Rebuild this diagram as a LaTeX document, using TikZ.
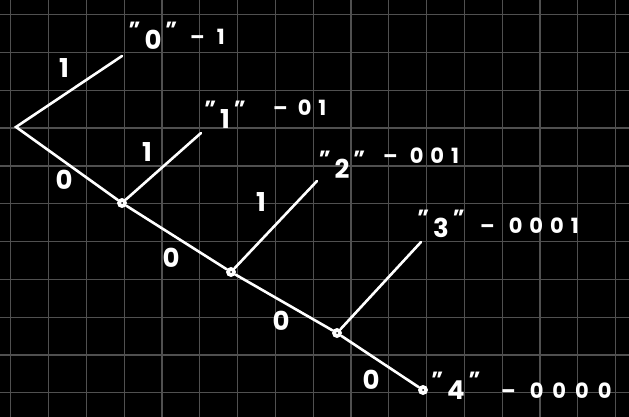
\documentclass[tikz,border=0pt]{standalone}
\usepackage{fontspec}
\setmainfont{Poppins}
\definecolor{gridc}{RGB}{80,80,80}
\newcommand{\qmark}{\raisebox{0.45em}{\fontsize{22}{22}\selectfont"}}
\newcommand{\qd}[1]{\qmark\hspace{0.15em}#1\hspace{0.15em}\qmark}
\newcommand{\gp}{\hspace{7pt}}
\begin{document}
\begin{tikzpicture}[x=1pt,y=-1pt,
  gridline/.style={draw=gridc, line width=1.2pt},
  branch/.style={draw=white, line width=2.6pt, line cap=round},
  lbl/.style={text=white, font=\fontsize{26}{26}\selectfont\bfseries, inner sep=0pt},
  codelbl/.style={text=white, font=\fontsize{21}{21}\selectfont\bfseries, inner sep=0pt, anchor=west},
  dotnode/.style={circle, fill=white, inner sep=0pt, minimum size=10pt,
    path picture={\fill[black] (path picture bounding box.center) circle (1pt);}}]
\fill[black] (0,0) rectangle (629,417);
\useasboundingbox (0,0) rectangle (629,417);
% grid
\foreach \i in {0,...,16} \draw[gridline] ({10.7+37.8*\i},0) -- ({10.7+37.8*\i},417);
\foreach \j in {0,...,10} \draw[gridline] (0,{14.7+37.8*\j}) -- (629,{14.7+37.8*\j});
% tree points
\coordinate (root) at (16,127);
\coordinate (t0) at (122,56);
\node[dotnode] (A) at (122,203) {};
\coordinate (t1) at (201,133);
\node[dotnode] (B) at (231,272) {};
\coordinate (t2) at (317,181);
\node[dotnode] (C) at (337,333) {};
\coordinate (t3) at (421,242);
\node[dotnode] (D) at (423,390) {};
% branches
\draw[branch] (t0) -- (root) -- (A);
\draw[branch] (A) -- (B);
\draw[branch] (B) -- (C);
\draw[branch] (C) -- (D);
\draw[branch] (A) -- (t1);
\draw[branch] (B) -- (t2);
\draw[branch] (C) -- (t3);
% edge labels
\node[lbl] (e1) at (64,68) {1};
\node[lbl] (e2) at (64,180) {0};
\node[lbl] (e3) at (147,152) {1};
\node[lbl] (e4) at (171,258) {0};
\node[lbl] (e5) at (261,202) {1};
\node[lbl] (e6) at (281,321) {0};
\node[lbl] (e7) at (371,380) {0};
% leaf labels
\node[lbl] (q0) at (153,36) {\qd{0}};
\node[codelbl] (c0) at (190,37) {–\hspace{12pt}1};
\node[lbl] (q1) at (225,115) {\qd{1}};
\node[codelbl] (c1) at (273,108) {–\hspace{10pt}0\gp1};
\node[lbl] (q2) at (342,165) {\qd{2}};
\node[codelbl] (c2) at (383,156) {–\hspace{12pt}0\gp0\gp1};
\node[lbl] (q3) at (441,224) {\qd{3}};
\node[codelbl] (c3) at (480,226) {–\hspace{14pt}0\gp0\gp0\gp1};
\node[lbl] (q4) at (456,386) {\qd{4}};
\node[codelbl] (c4) at (501,391) {–\hspace{14pt}0\hspace{9pt}0\hspace{9pt}0\hspace{9pt}0};
\end{tikzpicture}
\end{document}
